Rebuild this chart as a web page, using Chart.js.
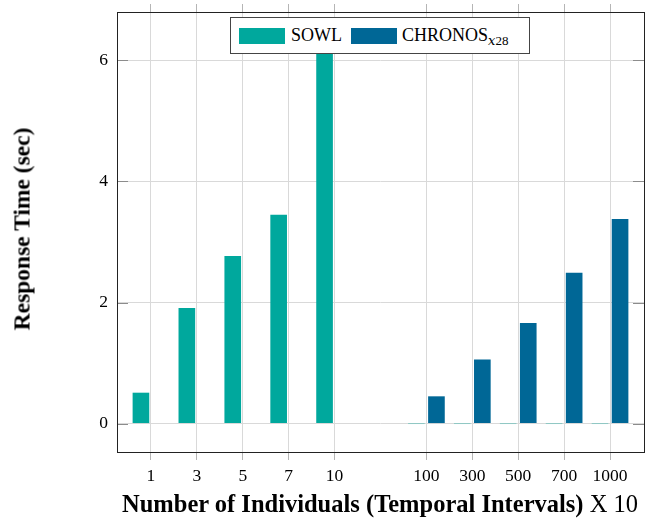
<!DOCTYPE html>
<html>
<head>
<meta charset="utf-8">
<script src="https://cdn.jsdelivr.net/npm/chart.js@4"></script>
<style>
  html, body { margin: 0; padding: 0; background: #fff; }
  #wrap { position: relative; width: 652px; height: 520px; }
  #chart { position: absolute; left: 0; top: 0; }
  .serif { font-family: "Liberation Serif", "Times New Roman", serif; color: #000; }
  #legend {
    position: absolute; left: 230px; top: 17px; width: 298px; height: 35px;
    border: 1px solid #444; background: #fff;
    display: flex; align-items: center; font-size: 18px;
  }
  .swatch { display: inline-block; width: 46px; height: 16px; }
  #xTitle {
    position: absolute; left: 80px; width: 600px; top: 490px;
    text-align: center; font-size: 24.5px; white-space: nowrap;
  }
  #yTitle {
    position: absolute; left: 22px; top: 229px; font-size: 23.5px; font-weight: bold;
    white-space: nowrap; transform: translate(-50%, -50%) rotate(-90deg);
  }
  sub { font-size: 13px; vertical-align: -4px; line-height: 0; }
  sub i { font-family: "DejaVu Serif", serif; }
</style>
</head>
<body>
<div id="wrap">
  <canvas id="chart" width="652" height="520"></canvas>
  <div id="legend" class="serif">
    <span class="swatch" id="sw1" style="margin-left:8px"></span>
    <span style="margin-left:6px">SOWL</span>
    <span class="swatch" id="sw2" style="margin-left:9px"></span>
    <span style="margin-left:5px">CHRONOS<sub><i>x</i>28</sub></span>
  </div>
  <div id="xTitle" class="serif"><b>Number of Individuals (Temporal Intervals)</b> X 10</div>
  <div id="yTitle" class="serif">Response Time (sec)</div>
</div>
<script>
// ─────────────────────────────────────────────
// Data (empty label = gap between the two groups)
// ─────────────────────────────────────────────
const categories   = ['1', '3', '5', '7', '10', '', '100', '300', '500', '700', '1000'];
const sowlTimes    = [0.51, 1.91, 2.77, 3.45, 6.33, null, 0, 0, 0, 0, 0];
const chronosTimes = [null, null, null, null, null, null, 0.45, 1.06, 1.66, 2.49, 3.38];
const yTicks       = [0, 2, 4, 6];

const SOWL_COLOR    = '#00a89d';
const CHRONOS_COLOR = '#006796';
const GRID_COLOR    = '#d9d9d9';
const FONT_FAMILY   = '"Liberation Serif", "Times New Roman", serif';

document.getElementById('sw1').style.background = SOWL_COLOR;
document.getElementById('sw2').style.background = CHRONOS_COLOR;

const toPoints = (values) => values.map((y, i) => ({ x: i, y }));
const tickIdx  = categories.map((c, i) => (c === '' ? null : i)).filter((i) => i !== null);

// ─────────────────────────────────────────────
// Frame + inward y tick marks
// ─────────────────────────────────────────────
const framePlugin = {
  id: 'frame',
  afterDraw(chart) {
    const { ctx, chartArea: a, scales } = chart;
    ctx.save();
    ctx.strokeStyle = '#8c8c8c';
    ctx.lineWidth = 1;
    yTicks.forEach((v) => {
      const y = Math.round(scales.y.getPixelForValue(v)) + 0.5;
      ctx.beginPath();
      ctx.moveTo(a.left, y); ctx.lineTo(a.left + 11, y);
      ctx.moveTo(a.right, y); ctx.lineTo(a.right - 11, y);
      ctx.stroke();
    });
    ctx.strokeStyle = '#222';
    ctx.strokeRect(Math.round(a.left) + 0.5, Math.round(a.top) + 0.5,
      Math.round(a.right - a.left), Math.round(a.bottom - a.top));
    ctx.restore();
  },
};

const sharedX = {
  type: 'linear',
  min: -0.74,
  max: 10.74,
  offset: false,
  afterBuildTicks: (s) => { s.ticks = tickIdx.map((v) => ({ value: v })); },
};

new Chart(document.getElementById('chart'), {
  type: 'bar',
  data: {
    datasets: [
      {
        label: 'SOWL',
        data: toPoints(sowlTimes),
        backgroundColor: (c) => (c.raw && c.raw.y === 0 ? 'rgba(0,168,157,0.35)' : SOWL_COLOR),
        minBarLength: 1,
        xAxisID: 'x',
      },
      {
        label: 'CHRONOS',
        data: toPoints(chronosTimes),
        backgroundColor: CHRONOS_COLOR,
        xAxisID: 'x',
      },
    ],
  },
  options: {
    responsive: false,
    animation: false,
    categoryPercentage: 0.874,
    barPercentage: 0.83,
    layout: { padding: { left: 0, right: 8, top: 0, bottom: 0 } },
    plugins: { legend: { display: false }, tooltip: { enabled: false } },
    scales: {
      x: {
        ...sharedX,
        position: 'bottom',
        afterFit: (s) => { s.height = 68; s.paddingLeft = 0; s.paddingRight = 0; },
        grid: { offset: false, color: GRID_COLOR, tickColor: '#b5b5b5', tickLength: 8 },
        border: { display: false },
        ticks: {
          color: '#000',
          padding: 6,
          font: { family: FONT_FAMILY, size: 17.5 },
          callback: (v) => categories[v],
        },
      },
      xTop: {
        ...sharedX,
        position: 'top',
        afterFit: (s) => { s.height = 12; s.paddingLeft = 0; s.paddingRight = 0; },
        grid: { offset: false, drawOnChartArea: false, tickColor: '#b5b5b5', tickLength: 8 },
        border: { display: false },
        ticks: { display: false },
      },
      y: {
        min: -0.47,
        max: 6.8,
        afterBuildTicks: (s) => { s.ticks = yTicks.map((v) => ({ value: v })); },
        afterFit: (s) => { s.width = 117; s.paddingTop = 0; s.paddingBottom = 0; },
        grid: { color: GRID_COLOR, drawTicks: false },
        border: { display: false },
        ticks: {
          color: '#000',
          padding: 9,
          font: { family: FONT_FAMILY, size: 17.5 },
        },
      },
    },
  },
  plugins: [framePlugin],
});
</script>
</body>
</html>
